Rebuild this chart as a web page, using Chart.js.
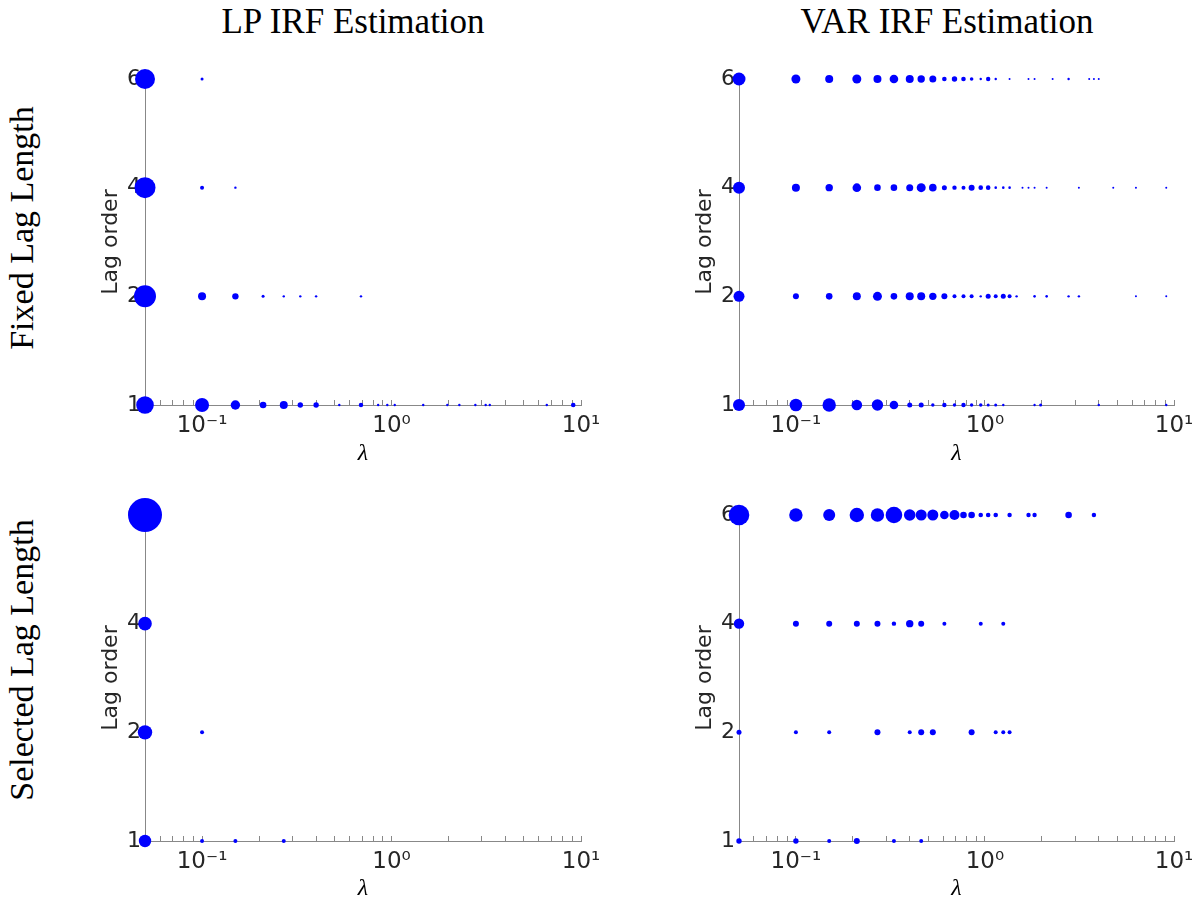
<!DOCTYPE html>
<html lang="en">
<head>
    <meta charset="UTF-8">
    <title>LP vs VAR IRF Estimation - lag order</title>
    <script src="https://cdn.jsdelivr.net/npm/chart.js"></script>
    <style>
        body {
            margin: 0;
            background: #fff;
            width: 1196px;
            height: 903px;
            overflow: hidden;
            position: relative;
            font-family: "DejaVu Sans", sans-serif;
        }

        .panel {
            position: absolute;
        }

        .col-title {
            position: absolute;
            top: 2px;
            font-family: "Liberation Serif", serif;
            font-size: 35px;
            line-height: 40px;
            color: #000;
            transform: translateX(-50%);
            white-space: nowrap;
        }

        .row-title {
            position: absolute;
            left: 22px;
            font-family: "Liberation Serif", serif;
            font-size: 34px;
            line-height: 38px;
            color: #000;
            transform: translate(-50%, -50%) rotate(-90deg);
            white-space: nowrap;
        }
    </style>
</head>
<body>

    <div class="col-title" style="left:353px;">LP IRF Estimation</div>
    <div class="col-title" style="left:947px;">VAR IRF Estimation</div>
    <div class="row-title" style="top:228px;">Fixed Lag Length</div>
    <div class="row-title" style="top:660px;">Selected Lag Length</div>

    <canvas id="lpFixed" class="panel" width="530" height="428" style="left:98px; top:40px;"></canvas>
    <canvas id="varFixed" class="panel" width="504" height="428" style="left:692px; top:40px;"></canvas>
    <canvas id="lpSelected" class="panel" width="530" height="427" style="left:98px; top:476px;"></canvas>
    <canvas id="varSelected" class="panel" width="504" height="427" style="left:692px; top:476px;"></canvas>

    <script>
        // lag orders shown on the y axis, bottom to top (equally spaced)
        const lagLabels = ['1', '2', '4', '6'];

        // x axis (lambda, log scale)
        const xMin = 0.05;
        const xMax = 10;
        const xTickValues = [0.06, 0.07, 0.08, 0.09, 0.1, 0.2, 0.3, 0.4, 0.5, 0.6, 0.7, 0.8, 0.9,
            1, 2, 3, 4, 5, 6, 7, 8, 9, 10];
        const xMajorValues = [0.1, 1, 10];
        const xMajorLabels = ['10⁻¹', '10⁰', '10¹'];

        // each row: [lambda, marker radius] pairs

        // LP, fixed lag length
        const lpFix6 = [[0.05, 10], [0.1, 1.5]];
        const lpFix4 = [[0.05, 10.5], [0.1, 2], [0.15, 1.2]];
        const lpFix2 = [[0.05, 11], [0.1, 4], [0.15, 3.2], [0.21, 1.5], [0.27, 1.2], [0.33, 1.2], [0.40, 1.2], [0.69, 1.2]];
        const lpFix1 = [[0.05, 8.8], [0.1, 7], [0.15, 4.7], [0.21, 3.3], [0.27, 4], [0.33, 2.7], [0.40, 2.7], [0.53, 1.2],
            [0.69, 2.2], [0.85, 1.2], [0.95, 1.2], [1.04, 1.2], [1.47, 1.2], [1.97, 1.2], [2.28, 1.2], [2.77, 1.2],
            [3.14, 1.2], [3.3, 1.2], [6.6, 1.2], [9.1, 2.3]];

        // VAR, fixed lag length
        const varFix6 = [[0.05, 6.5], [0.1, 4.5], [0.15, 4], [0.21, 4.5], [0.27, 4], [0.33, 4.3], [0.40, 4], [0.46, 3.7],
            [0.53, 3.5], [0.61, 2.3], [0.69, 2.7], [0.77, 2.3], [0.85, 1.8], [0.95, 1.2], [1.04, 2.2], [1.14, 1.2],
            [1.35, 1], [1.70, 1], [1.83, 1], [2.28, 1], [2.77, 1.2], [3.56, 1], [3.77, 1], [4.0, 1]];
        const varFix4 = [[0.05, 6], [0.1, 4], [0.15, 3.7], [0.21, 4.3], [0.27, 3.3], [0.33, 3.3], [0.40, 3.5], [0.46, 4.5],
            [0.53, 3.8], [0.61, 2.5], [0.69, 2.2], [0.77, 2], [0.85, 3], [0.95, 2.3], [1.04, 2.3], [1.14, 1.3],
            [1.25, 1.3], [1.35, 1.3], [1.58, 1], [1.70, 1], [1.83, 1], [2.12, 1], [3.14, 1], [4.77, 1], [6.29, 1], [9.1, 1]];
        const varFix2 = [[0.05, 5.5], [0.1, 3], [0.15, 3.3], [0.21, 4], [0.27, 4.5], [0.33, 3.3], [0.40, 4], [0.46, 4],
            [0.53, 3.7], [0.61, 3], [0.69, 2], [0.77, 2], [0.85, 2], [0.95, 1.2], [1.04, 2.5], [1.14, 2], [1.25, 2.5],
            [1.35, 2], [1.47, 1.2], [1.83, 1.3], [2.12, 1.3], [2.77, 1.2], [3.14, 1.2], [6.29, 1], [9.1, 1]];
        const varFix1 = [[0.05, 6], [0.1, 6.3], [0.15, 6.7], [0.21, 5.3], [0.27, 5.7], [0.33, 4.3], [0.40, 2.5], [0.46, 2.5],
            [0.53, 1.7], [0.61, 2.2], [0.69, 1.7], [0.77, 2.2], [0.85, 1.7], [0.95, 1.7], [1.04, 1.5], [1.14, 1.5],
            [1.25, 1.2], [1.83, 1.2], [1.97, 1.5], [4.0, 1.2], [9.1, 1.2]];

        // LP, selected lag length
        const lpSel6 = [[0.05, 17]];
        const lpSel4 = [[0.05, 6.8]];
        const lpSel2 = [[0.05, 7.2], [0.1, 2]];
        const lpSel1 = [[0.05, 6.2], [0.1, 2], [0.15, 2], [0.27, 2]];

        // VAR, selected lag length
        const varSel6 = [[0.05, 10.3], [0.1, 6.7], [0.15, 6], [0.21, 7.2], [0.27, 6.7], [0.33, 8.3], [0.40, 5.8], [0.46, 5.5],
            [0.53, 5.5], [0.61, 4.3], [0.69, 5], [0.77, 3.3], [0.85, 3.3], [0.95, 2.3], [1.04, 2.3], [1.14, 2.3],
            [1.35, 2.2], [1.70, 2.2], [1.83, 2.2], [2.77, 3.3], [3.77, 2.2]];
        const varSel4 = [[0.05, 5.2], [0.1, 3], [0.15, 3], [0.21, 3], [0.27, 3], [0.33, 2.2], [0.40, 3.7], [0.46, 3],
            [0.61, 2], [0.95, 2], [1.25, 2]];
        const varSel2 = [[0.05, 2.5], [0.1, 2], [0.15, 2], [0.27, 3], [0.40, 2], [0.46, 3], [0.53, 3], [0.85, 3],
            [1.14, 2], [1.25, 2], [1.35, 2]];
        const varSel1 = [[0.05, 2.7], [0.1, 2.7], [0.15, 2], [0.21, 3], [0.33, 2], [0.46, 2]];

        const axisGray = '#888888';
        const textGray = '#262626';
        const chartHeight = 326;   // plot area height in px
        const padTop = 39;

        function lagPos(lag) {
            return lagLabels.indexOf(String(lag)) + 1;
        }

        function toPoints(rows) {
            const pts = [];
            rows.forEach(([lag, list]) => {
                list.forEach(([lam, r]) => pts.push({ x: lam, y: lagPos(lag), r: r }));
            });
            return pts;
        }

        function makePanel(id, rows, padRight) {
            const canvas = document.getElementById(id);
            const xAxisHeight = canvas.height - padTop - chartHeight;
            return new Chart(canvas.getContext('2d'), {
                type: 'bubble',
                data: {
                    datasets: [{
                        data: toPoints(rows),
                        backgroundColor: '#0000ff',
                        borderWidth: 0,
                        clip: false
                    }]
                },
                options: {
                    responsive: false,
                    animation: false,
                    layout: { padding: { top: padTop, right: padRight, bottom: 0, left: 0 } },
                    plugins: {
                        legend: { display: false },
                        tooltip: { enabled: false }
                    },
                    scales: {
                        x: {
                            type: 'logarithmic',
                            position: 'bottom',
                            min: xMin,
                            max: xMax,
                            afterBuildTicks: (scale) => {
                                scale.ticks = xTickValues.map(v => ({ value: v }));
                            },
                            afterFit: (scale) => {
                                scale.height = xAxisHeight;
                                scale.paddingLeft = 0;
                                scale.paddingRight = 0;
                            },
                            ticks: {
                                autoSkip: false,
                                maxRotation: 0,
                                minRotation: 0,
                                padding: 12,
                                color: textGray,
                                font: { family: 'DejaVu Sans', size: 23 },
                                callback: (value) => {
                                    const i = xMajorValues.findIndex(m => Math.abs(m - value) < 1e-9);
                                    return i >= 0 ? xMajorLabels[i] : '';
                                }
                            },
                            grid: {
                                display: true,
                                drawOnChartArea: false,
                                drawTicks: true,
                                tickLength: -5,
                                color: axisGray,
                                lineWidth: 1
                            },
                            border: { display: true, color: axisGray, width: 1 },
                            title: {
                                display: true,
                                text: 'λ',
                                color: '#000',
                                padding: 0,
                                font: { family: 'Liberation Serif', size: 24, style: 'italic' }
                            }
                        },
                        y: {
                            type: 'linear',
                            min: 1,
                            max: lagLabels.length,
                            afterBuildTicks: (scale) => {
                                scale.ticks = lagLabels.map((l, i) => ({ value: i + 1 }));
                            },
                            afterFit: (scale) => {
                                scale.width = 47;
                                scale.paddingTop = 0;
                                scale.paddingBottom = 0;
                            },
                            ticks: {
                                padding: 4,
                                color: textGray,
                                font: { family: 'DejaVu Sans', size: 22 },
                                callback: (value) => lagLabels[value - 1] || ''
                            },
                            grid: {
                                display: true,
                                drawOnChartArea: false,
                                drawTicks: false
                            },
                            border: { display: true, color: axisGray, width: 1 },
                            title: {
                                display: true,
                                text: 'Lag order',
                                color: textGray,
                                padding: 0,
                                font: { family: 'DejaVu Sans', size: 22 }
                            }
                        }
                    }
                }
            });
        }

        makePanel('lpFixed', [[6, lpFix6], [4, lpFix4], [2, lpFix2], [1, lpFix1]], 47);
        makePanel('varFixed', [[6, varFix6], [4, varFix4], [2, varFix2], [1, varFix1]], 22);
        makePanel('lpSelected', [[6, lpSel6], [4, lpSel4], [2, lpSel2], [1, lpSel1]], 47);
        makePanel('varSelected', [[6, varSel6], [4, varSel4], [2, varSel2], [1, varSel1]], 22);
    </script>
</body>
</html>
